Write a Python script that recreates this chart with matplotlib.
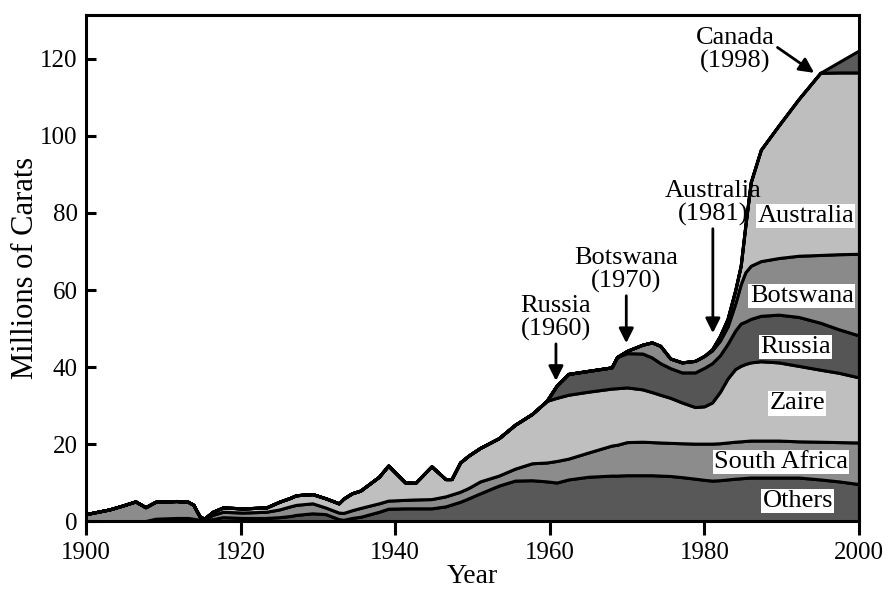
import matplotlib.pyplot as plt
import numpy as np

plt.rcParams['font.family'] = ['Liberation Serif', 'DejaVu Serif']

# years (irregular, where the outlines bend)
years = [1900, 1903, 1904.7, 1906.4, 1907.7, 1909, 1911.7, 1913.2, 1913.9, 1914.7,
         1915.3, 1916.4, 1917.7, 1920.3, 1923.3, 1925, 1926.4, 1927.2, 1929.3, 1931,
         1932.7, 1933.3, 1934.4, 1935.5, 1937.9, 1939.1, 1941.3, 1942.6, 1944.7, 1946.5,
         1947.3, 1948.4, 1949.5, 1951, 1953.4, 1955.5, 1957.7, 1959.6, 1960.9, 1962.4,
         1965, 1968, 1968.7, 1970, 1972, 1973.2, 1974.3, 1975.6, 1977.1, 1978.8,
         1980, 1981, 1982, 1983, 1984, 1984.7, 1985.3, 1986, 1987.3, 1989.6,
         1992.2, 1995, 1997.4, 2000]

# production, millions of carats (each band, bottom to top)
others = [0, 0, 0, 0, 0, 0.6, 0.8, 0.8, 0.6, 0.3,
          0.2, 0.5, 1.0, 0.8, 0.8, 1.0, 1.3, 1.6, 2.0, 1.8,
          0.5, 0.3, 0.8, 1.1, 2.4, 3.2, 3.3, 3.3, 3.3, 3.8,
          4.3, 5.0, 5.9, 7.2, 9.2, 10.5, 10.6, 10.3, 10.0, 10.8,
          11.5, 11.8, 11.8, 11.9, 11.9, 11.9, 11.8, 11.7, 11.4, 11.0,
          10.7, 10.5, 10.6, 10.8, 11.0, 11.1, 11.2, 11.3, 11.3, 11.3,
          11.3, 10.8, 10.3, 9.6]
south_africa = [1.8, 3.0, 4.0, 5.1, 3.6, 4.4, 4.4, 4.2, 3.6, 0.9,
                0.3, 1.1, 1.4, 1.4, 1.6, 2.0, 2.5, 2.6, 2.6, 1.7,
                1.7, 1.8, 2.0, 2.3, 2.2, 2.1, 2.2, 2.3, 2.4, 2.6,
                2.6, 2.6, 2.7, 3.1, 2.6, 3.1, 4.4, 4.9, 5.6, 5.4,
                6.3, 7.8, 8.0, 8.6, 8.7, 8.6, 8.6, 8.6, 8.8, 9.1,
                9.4, 9.6, 9.6, 9.6, 9.6, 9.6, 9.6, 9.6, 9.6, 9.6,
                9.4, 9.8, 10.2, 10.8]
zaire = [0, 0, 0, 0, 0, 0, 0, 0, 0, 0,
         0.1, 0.8, 1.1, 1.1, 1.1, 2.0, 2.2, 2.5, 2.4, 2.4,
         2.4, 3.7, 4.4, 4.5, 6.9, 9.1, 4.5, 4.3, 8.5, 4.5,
         4.0, 7.6, 8.4, 8.7, 9.7, 11.4, 12.8, 16.0, 16.4, 16.6,
         15.8, 14.8, 14.7, 14.2, 13.6, 13.0, 12.4, 11.7, 10.6, 9.5,
         9.7, 10.7, 13.3, 16.6, 18.9, 19.6, 20.0, 20.3, 20.6, 20.3,
         19.6, 18.7, 18.0, 16.9]
russia = [0] * 37 + [0, 3.2, 5.4,
          5.4, 5.5, 8.1, 8.9, 9.3, 9.0, 8.2, 7.7, 7.8, 9.0,
          10.0, 10.2, 9.5, 9.0, 10.0, 11.0, 11.0, 11.3, 11.8, 12.4,
          12.7, 12.2, 11.3, 10.9]
botswana = [0] * 42 + [0, 0.6, 2.3, 3.9, 4.5, 2.5, 2.6, 3.0,
            3.1, 3.3, 3.8, 4.5, 7.0, 10.2, 12.8, 13.8, 14.2, 14.7,
            15.9, 17.6, 19.5, 21.2]
australia = [0] * 51 + [0.3, 1.2, 2.0, 3.5, 4.8, 12.1, 21.7, 28.9, 34.4,
             40.7, 47.3, 47.2, 47.1]
canada = [0] * 61 + [0, 2.7, 5.7]

band_colors = ['#585858', '#8c8c8c', '#bfbfbf', '#555555', '#8a8a8a', '#bebebe', '#5a5a5a']

fig = plt.figure(figsize=(8.89, 5.89), dpi=100)
ax = fig.add_axes([0.0967, 0.1154, 0.8695, 0.859])

ax.stackplot(years, others, south_africa, zaire, russia, botswana, australia, canada,
             colors=band_colors, edgecolor='black', linewidth=2.2)

ax.set_xlim(1900, 2000)
ax.set_ylim(0, 131.4)
ax.set_xticks(range(1900, 2001, 20))
ax.set_yticks(range(0, 121, 20))
ax.tick_params(axis='x', direction='out', length=10, width=2.2, labelsize=18, pad=5)
ax.tick_params(axis='y', direction='in', length=7, width=2.2, labelsize=18, pad=6)
for s in ax.spines.values():
    s.set_linewidth(2.2)
ax.set_xlabel('Year', fontsize=20)
ax.set_ylabel('Millions of Carats', fontsize=22)
ax.xaxis.set_label_coords(0.5, -0.085)
ax.yaxis.set_label_coords(-0.060, 0.5)

# band names inside the chart
band_labels = ['Australia', 'Botswana', 'Russia', 'Zaire', 'South Africa', 'Others']
label_pos = [(1993.1, 79.2), (1992.6, 58.4), (1991.8, 45.2), (1992.0, 30.6),
             (1989.9, 15.3), (1992.1, 5.2)]
for txt, (x, y) in zip(band_labels, label_pos):
    ax.text(x, y, txt, fontsize=19, ha='center', va='center',
            bbox=dict(facecolor='white', edgecolor='none', pad=1.0))

# first production arrows
arrow_kw = dict(arrowstyle='-|>', color='black', lw=2, mutation_scale=22, shrinkA=0, shrinkB=0)
ax.annotate('Russia\n(1960)', xy=(1960.8, 36.4), xytext=(1960.8, 52.7),
            fontsize=19, ha='center', va='center', linespacing=1.05, arrowprops=arrow_kw)
ax.annotate('Botswana\n(1970)', xy=(1969.9, 46.2), xytext=(1969.9, 65.2),
            fontsize=19, ha='center', va='center', linespacing=1.05, arrowprops=arrow_kw)
ax.annotate('Australia\n(1981)', xy=(1981.1, 48.8), xytext=(1981.1, 82.6),
            fontsize=19, ha='center', va='center', linespacing=1.05, arrowprops=arrow_kw)
ax.annotate('Canada\n(1998)', xy=(1994.2, 116.4), xytext=(1984.0, 122.3),
            fontsize=19, ha='center', va='center', linespacing=1.05,
            arrowprops=dict(arrow_kw, relpos=(1.0, 0.6)))

fig.savefig('out.png', dpi=100)
